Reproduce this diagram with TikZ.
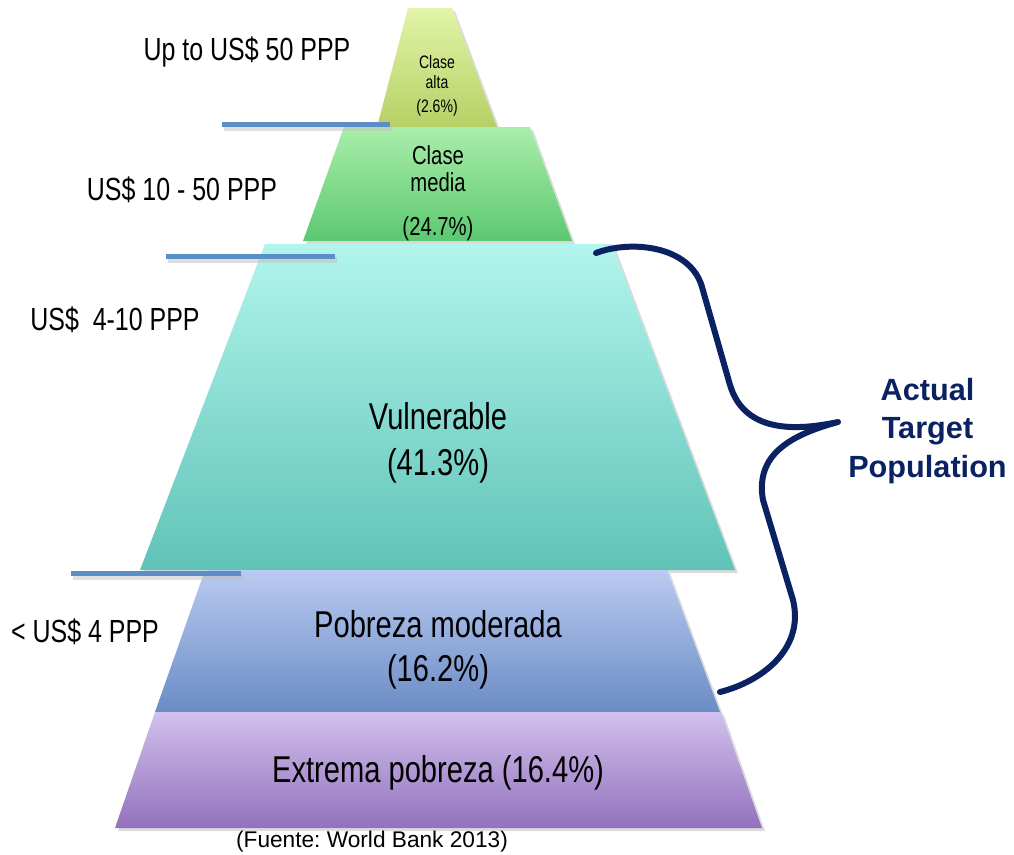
\documentclass[tikz,border=0pt]{standalone}
\usepackage{fontspec}
\setmainfont{Liberation Sans}
\newfontfamily\narrow[FakeStretch=0.78]{Liberation Sans}
\usetikzlibrary{positioning}
\frenchspacing

\definecolor{altaT}{RGB}{226,244,168}
\definecolor{altaB}{RGB}{182,208,100}
\definecolor{mediaT}{RGB}{170,238,170}
\definecolor{mediaB}{RGB}{92,200,112}
\definecolor{vulnT}{RGB}{178,245,236}
\definecolor{vulnB}{RGB}{96,195,184}
\definecolor{modT}{RGB}{186,202,242}
\definecolor{modB}{RGB}{106,140,196}
\definecolor{extT}{RGB}{210,192,238}
\definecolor{extB}{RGB}{146,114,188}
\definecolor{cutblue}{RGB}{92,142,198}
\definecolor{navy}{RGB}{10,34,98}

\begin{document}
\begin{tikzpicture}[x=0.75pt,y=-0.75pt,
    tier/.style={align=center,inner sep=0pt},
    income/.style={font=\narrow\fontsize{24}{28}\selectfont,inner sep=0pt},
    cut/.style={cutblue,line width=3.75pt},
    cutshadow/.style={black!25,line width=4pt,opacity=.5}]
  \useasboundingbox (0,0) rectangle (1014,854);

  % soft shadows under the tiers
  \begin{scope}[shift={(3,3)},black!20,opacity=.7]
    \fill (408,8) -- (452,8) -- (497,127) -- (377,127) -- cycle;
    \fill (344,127) -- (530,127) -- (572,241) -- (303,241) -- cycle;
    \fill (265,244) -- (612,244) -- (735,570) -- (140,570) -- cycle;
    \fill (205,570) -- (667,570) -- (720,712) -- (155,712) -- cycle;
    \fill (155,712) -- (721,712) -- (762,828) -- (115,828) -- cycle;
  \end{scope}

  % the five tiers, top to bottom
  \shade[top color=altaT,bottom color=altaB] (408,8) -- (452,8) -- (497,127) -- (377,127) -- cycle;
  \shade[top color=mediaT,bottom color=mediaB] (344,127) -- (530,127) -- (572,241) -- (303,241) -- cycle;
  \shade[top color=vulnT,bottom color=vulnB] (265,244) -- (612,244) -- (735,570) -- (140,570) -- cycle;
  \shade[top color=modT,bottom color=modB] (205,570) -- (667,570) -- (720,712) -- (155,712) -- cycle;
  \shade[top color=extT,bottom color=extB] (155,712) -- (721,712) -- (762,828) -- (115,828) -- cycle;

  \node[tier,font=\narrow\fontsize{13.5}{15}\selectfont] (alta) at (437,86) {Clase\\alta\\[3.5pt](2.6\%)};
  \node[tier,font=\narrow\fontsize{19.5}{20}\selectfont] (media) at (438,193) {Clase\\media\\[13pt](24.7\%)};
  \node[tier,font=\narrow\fontsize{28}{34.5}\selectfont] (vuln) at (438,443) {Vulnerable\\(41.3\%)};
  \node[tier,font=\narrow\fontsize{28}{33}\selectfont] (mod) at (438,650) {Pobreza moderada\\(16.2\%)};
  \node[tier,font=\narrow\fontsize{28}{33}\selectfont] (ext) at (438,773) {Extrema pobreza (16.4\%)};
  \node[inner sep=0pt,font=\fontsize{17}{20}\selectfont] (src) at (372,842) {(Fuente: World Bank 2013)};

  % income cut-offs
  \draw[cutshadow] (224,128) -- (392,128);
  \draw[cut] (222,124) -- (390,124);
  \draw[cutshadow] (168,260) -- (337,260);
  \draw[cut] (166,256) -- (335,256);
  \draw[cutshadow] (73,577) -- (243,577);
  \draw[cut] (71,573) -- (241,573);

  \node[income] (lvl50) at (247,52) {Up to US\$ 50 PPP};
  \node[income] (lvl10) at (182,190) {US\$ 10 - 50 PPP};
  \node[income] (lvl4) at (115,320) {US\$\ \ 4-10 PPP};
  \node[income] (lvl0) at (85,632) {< US\$ 4 PPP};

  % brace over vulnerable + moderada
  \coordinate (tip) at (838,422);
  \draw[navy,line width=4.5pt,line cap=round,line join=round]
    (596,253) .. controls (630,240) and (690,245) .. (702,287) -- (730,385)
    .. controls (745,435) and (800,430) .. (tip)
    .. controls (790,435) and (755,455) .. (763,500) -- (793,600)
    .. controls (805,650) and (760,682) .. (720,692);
  \node[right=7.5pt of tip,yshift=-6.75pt,inner sep=0pt,align=center,text=navy,
    font=\bfseries\fontsize{23}{29}\selectfont] (target) {Actual\\Target\\Population};
\end{tikzpicture}
\end{document}
